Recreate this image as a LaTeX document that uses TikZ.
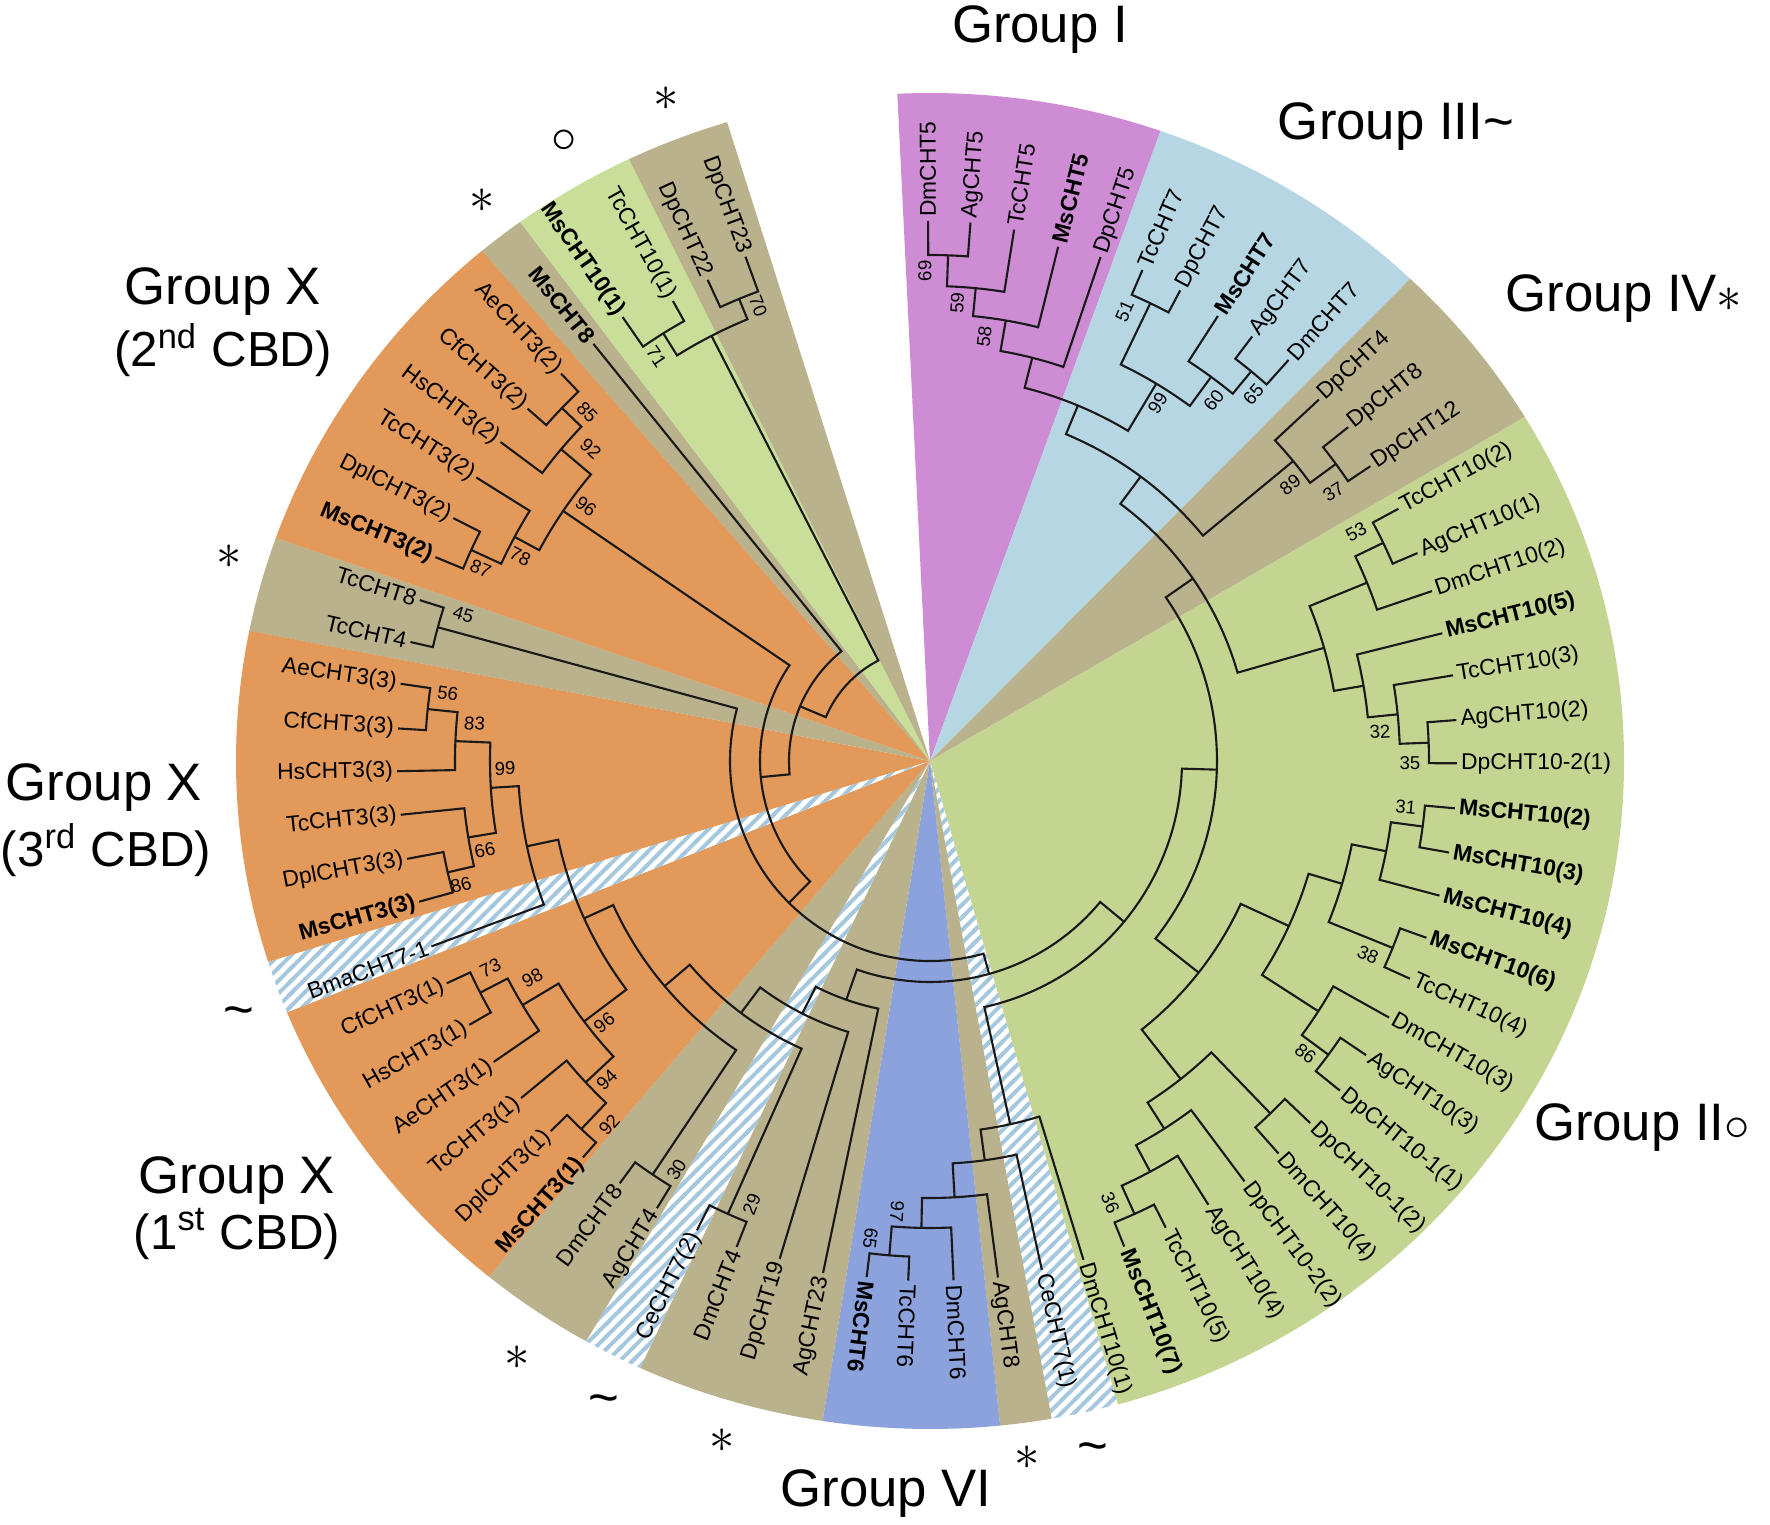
\documentclass[tikz,border=0pt]{standalone}
\usepackage{fontspec}
\setmainfont{Liberation Sans}
\usetikzlibrary{patterns}
\definecolor{grpink}{RGB}{206,140,212}
\definecolor{grsky}{RGB}{182,214,228}
\definecolor{grtan}{RGB}{186,178,140}
\definecolor{grgreen}{RGB}{196,213,145}
\definecolor{grlime}{RGB}{201,222,152}
\definecolor{grblue}{RGB}{140,162,221}
\definecolor{grorange}{RGB}{227,153,90}
\definecolor{hatchblue}{RGB}{165,200,222}
\definecolor{branchc}{RGB}{25,25,25}

\pgfdeclarepatternformonly{cladehatch}{\pgfpoint{-1pt}{-1pt}}{\pgfpoint{4.6pt}{4.6pt}}{\pgfpoint{3.6pt}{3.6pt}}{%
  \pgfsetlinewidth{1.1pt}%
  \pgfpathmoveto{\pgfpoint{-1pt}{-1pt}}%
  \pgfpathlineto{\pgfpoint{4.6pt}{4.6pt}}%
  \pgfusepath{stroke}}

% background sector of a clade, from angle #1 to angle #2
\newcommand{\sector}[3]{%
  \fill[#3] (0,0) -- (#1:694 and 668) arc[start angle=#1, end angle=#2, x radius=6.94cm, y radius=6.68cm] -- cycle;}
% clade #1 at radius #2 joining #3 and #4
\newcommand{\clade}[4]{%
  \pgfmathsetmacro{\clA}{\csname A#3\endcsname}%
  \pgfmathsetmacro{\clB}{\csname A#4\endcsname}%
  \pgfmathsetmacro{\clM}{(\clA+\clB)/2}%
  \expandafter\xdef\csname A#1\endcsname{\clM}%
  \coordinate (#1) at (\clM:#2);
  \draw[branch] (#3) -- (\clA:#2) arc[start angle=\clA, end angle=\clB, radius=#2*0.01cm] -- (#4);}

\begin{document}
\begin{tikzpicture}[x=0.01cm, y=0.01cm,
    branch/.style={draw=branchc, line width=0.6pt, line join=miter},
    lbln/.style={font=\fontsize{6.5}{7}\selectfont, inner sep=1pt},
    lblb/.style={font=\fontsize{6.5}{7}\selectfont\bfseries, inner sep=1pt},
    boot/.style={font=\fontsize{5.3}{6}\selectfont, inner sep=0pt},
    grplbl/.style={font=\fontsize{15}{18}\selectfont, inner sep=0pt},
    cbdlbl/.style={font=\fontsize{14}{17}\selectfont, inner sep=0pt},
    sym/.style={font=\fontsize{15}{18}\selectfont, inner sep=0pt}]
\useasboundingbox (-930,-764) rectangle (840,761);

% clade backgrounds
\sector{92.7}{70.6}{grpink}
\sector{70.6}{46.2}{grsky}
\sector{46.2}{31.0}{grtan}
\sector{31.0}{-74.3}{grgreen}
\sector{-74.3}{-79.9}{white}
\sector{-74.3}{-79.9}{pattern=cladehatch, pattern color=hatchblue}
\sector{-79.9}{-84.2}{grtan}
\sector{-84.2}{-98.9}{grblue}
\sector{-98.9}{-114.7}{grtan}
\sector{-114.7}{-119.7}{white}
\sector{-114.7}{-119.7}{pattern=cladehatch, pattern color=hatchblue}
\sector{-119.7}{-129.5}{grtan}
\sector{-129.5}{-157.9}{grorange}
\sector{-157.9}{-162.5}{white}
\sector{-157.9}{-162.5}{pattern=cladehatch, pattern color=hatchblue}
\sector{-162.5}{-191.25}{grorange}
\sector{-191.25}{-199.5}{grtan}
\sector{-199.5}{-229.8}{grorange}
\sector{-229.8}{-233.8}{grtan}
\sector{-233.8}{-244.3}{grlime}
\sector{-244.3}{-253.0}{grtan}

% leaves
\foreach \id/\ang/\rad/\lname/\wt in {
  dmcht5/90.2/540/DmCHT5/n, agcht5/85.7/540/AgCHT5/n, tccht5/81.0/538/TcCHT5/n,
  mscht5/76.0/530/MsCHT5/b, dpcht5/71.3/532/DpCHT5/n,
  tccht7/66.6/535/TcCHT7/n, dpcht7/62.0/533/DpCHT7/n, mscht7/57.1/530/MsCHT7/b,
  agcht7/52.8/533/AgCHT7/n, dmcht7/48.2/538/DmCHT7/n,
  dpcht4/42.9/531/DpCHT4/n, dpcht8/38.6/535/DpCHT8/n, dpcht12/33.8/530/DpCHT12/n,
  tccht10-2/28.3/532/TcCHT10(2)/n, agcht10-1/23.1/530/AgCHT10(1)/n,
  dmcht10-2/18.7/530/DmCHT10(2)/n, mscht10-5/14.0/528/MsCHT10(5)/b,
  tccht10-3/9.3/530/TcCHT10(3)/n, agcht10-2/4.45/528/AgCHT10(2)/n,
  dpcht10-2-1/-0.25/527/DpCHT10-2(1)/n, mscht10-2/-5.15/527/MsCHT10(2)/b,
  mscht10-3/-10.0/527/MsCHT10(3)/b, mscht10-4/-14.8/527/MsCHT10(4)/b,
  mscht10-6/-19.6/527/MsCHT10(6)/b, tccht10-4/-24.4/527/TcCHT10(4)/n,
  dmcht10-3/-29.2/526/DmCHT10(3)/n, agcht10-3/-34.0/526/AgCHT10(3)/n,
  dpcht10-1-1/-38.8/526/DpCHT10-1(1)/n, dpcht10-1-2/-43.6/525/DpCHT10-1(2)/n,
  dmcht10-4/-48.4/525/DmCHT10(4)/n, dpcht10-2-2/-53.2/525/DpCHT10-2(2)/n,
  agcht10-4/-57.9/524/AgCHT10(4)/n, tccht10-5/-63.2/523/TcCHT10(5)/n,
  mscht10-7/-68.2/523/MsCHT10(7)/b, dmcht10-1/-72.9/522/DmCHT10(1)/n,
  cecht7-1/-77.6/521/CeCHT7(1)/n, agcht8/-82.5/521/AgCHT8/n,
  dmcht6/-87.4/520/DmCHT6/n, tccht6/-92.4/520/TcCHT6/n, mscht6/-97.0/520/MsCHT6/b,
  agcht23/-101.8/523/AgCHT23/n, dpcht19/-106.8/520/DpCHT19/n, dmcht4/-111.7/523/DmCHT4/n,
  cecht7-2/-116.4/524/CeCHT7(2)/n, agcht4/-121.4/524/AgCHT4/n, dmcht8/-126.3/524/DmCHT8/n,
  mscht3-1/-131.2/527/MsCHT3(1)/b, dplcht3-1/-135.7/530/DplCHT3(1)/n,
  tccht3-1/-140.5/530/TcCHT3(1)/n, aecht3-1/-145.4/530/AeCHT3(1)/n,
  hscht3-1/-150.2/531/HsCHT3(1)/n, cfcht3-1/-155.3/532/CfCHT3(1)/n,
  bmacht7-1/-159.6/532/BmaCHT7-1/n,
  mscht3-3/-164.6/530/MsCHT3(3)/b, dplcht3-3/-169.4/532/DplCHT3(3)/n,
  tccht3-3/-174.2/532/TcCHT3(3)/n, hscht3-3/-178.9/533/HsCHT3(3)/n,
  cfcht3-3/-183.5/533/CfCHT3(3)/n, aecht3-3/-188.3/535/AeCHT3(3)/n,
  tccht4/-192.9/533/TcCHT4/n, tccht8/-197.5/535/TcCHT8/n,
  mscht3-2/-202.4/535/MsCHT3(2)/b, dplcht3-2/-207.0/535/DplCHT3(2)/n,
  tccht3-2/-212.0/535/TcCHT3(2)/n, hscht3-2/-216.6/535/HsCHT3(2)/n,
  cfcht3-2/-221.2/535/CfCHT3(2)/n, aecht3-2/-226.4/535/AeCHT3(2)/n,
  mscht8/-231.1/536/MsCHT8/b, mscht10-1/-235.3/540/MsCHT10(1)/b,
  tccht10-1/-240.8/527/TcCHT10(1)/n, dpcht22/-245.2/530/DpCHT22/n,
  dpcht23/-249.9/537/DpCHT23/n}{
  \coordinate (\id) at (\ang:\rad);
  \expandafter\xdef\csname A\id\endcsname{\ang}
  \ifdim\ang pt>-100pt
    \node[lbl\wt, rotate=\ang, anchor=west] (lab-\id) at (\id) {\lname};
  \else
    \node[lbl\wt, rotate=\ang+180, anchor=east] (lab-\id) at (\id) {\lname};
  \fi
}

% Group I, III, IV
\clade{c69}{506}{dmcht5}{agcht5}
\clade{c59}{475}{c69}{tccht5}
\clade{c58}{447}{c59}{mscht5}
\clade{cg1}{416}{c58}{dpcht5}
\clade{c51}{508}{tccht7}{dpcht7}
\clade{c65}{505}{agcht7}{dmcht7}
\clade{c60}{476}{mscht7}{c65}
\clade{cg3}{440}{c51}{c60}
\clade{cg13}{385}{cg1}{cg3}
\clade{c37}{503}{dpcht8}{dpcht12}
\clade{cg4}{471}{dpcht4}{c37}
\clade{cg134}{354}{cg13}{cg4}
% Group II
\clade{c53}{503}{tccht10-2}{agcht10-1}
\clade{cu1}{472}{c53}{dmcht10-2}
\clade{c35}{499}{agcht10-2}{dpcht10-2-1}
\clade{c32}{470}{tccht10-3}{c35}
\clade{cu2}{440}{mscht10-5}{c32}
\clade{cu}{410}{cu1}{cu2}
\clade{cup}{320}{cg134}{cu}
\clade{c31}{497}{mscht10-2}{mscht10-3}
\clade{cm1}{465}{c31}{mscht10-4}
\clade{c38}{499}{mscht10-6}{tccht10-4}
\clade{cm2}{430}{cm1}{c38}
\clade{c86}{495}{agcht10-3}{dpcht10-1-1}
\clade{cm3}{462}{dmcht10-3}{c86}
\clade{cm}{395}{cm2}{cm3}
\clade{c36}{497}{tccht10-5}{mscht10-7}
\clade{cl1}{466}{agcht10-4}{c36}
\clade{cl2}{436}{dpcht10-2-2}{cl1}
\clade{cl3}{490}{dpcht10-1-2}{dmcht10-4}
\clade{cl}{405}{cl3}{cl2}
\clade{cml}{342}{cm}{cl}
\clade{cright}{287}{cup}{cml}
% Group VI
\clade{c65b}{496}{tccht6}{mscht6}
\clade{c97}{467}{dmcht6}{c65b}
\clade{cv1}{437}{agcht8}{c97}
\clade{cv2}{403}{cecht7-1}{cv1}
\clade{cbv}{372}{dmcht10-1}{cv2}
\clade{cp252}{252}{cright}{cbv}
% Group X, 1st and 3rd CBD
\clade{c73}{506}{hscht3-1}{cfcht3-1}
\clade{c98}{475}{aecht3-1}{c73}
\clade{c92}{507}{mscht3-1}{dplcht3-1}
\clade{c94}{471}{c92}{tccht3-1}
\clade{cx1}{433}{c94}{c98}
\clade{c56}{505}{cfcht3-3}{aecht3-3}
\clade{c83}{475}{hscht3-3}{c56}
\clade{c86b}{495}{mscht3-3}{dplcht3-3}
\clade{c66}{468}{c86b}{tccht3-3}
\clade{cx3}{440}{c66}{c83}
\clade{cxb}{412}{bmacht7-1}{cx3}
\clade{cx13}{380}{cx1}{cxb}
\clade{c30}{498}{agcht4}{dmcht8}
\clade{ca}{348}{c30}{cx13}
\clade{c29}{496}{dmcht4}{cecht7-2}
\clade{cb}{315}{c29}{ca}
\clade{cc}{283}{dpcht19}{cb}
\clade{cd}{253}{agcht23}{cc}
\clade{cx221}{221}{cp252}{cd}
\clade{c45}{510}{tccht4}{tccht8}
\clade{cp200}{200}{cx221}{c45}
% Group X, 2nd CBD
\clade{c87}{505}{mscht3-2}{dplcht3-2}
\clade{c78}{472}{c87}{tccht3-2}
\clade{c85}{510}{cfcht3-2}{aecht3-2}
\clade{c92b}{483}{hscht3-2}{c85}
\clade{cx2}{444}{c78}{c92b}
\clade{cq}{170}{cp200}{cx2}
\clade{cqm}{141}{cq}{mscht8}
\clade{c71}{504}{mscht10-1}{tccht10-1}
\clade{c70}{500}{dpcht22}{dpcht23}
\clade{ctl}{478}{c71}{c70}
\clade{croot}{113}{cqm}{ctl}

% bootstrap values
\foreach \bv/\ang/\rad [count=\bi] in {
  69/90.6/490, 59/86.6/459, 58/82.7/428, 51/66.6/490, 99/57.5/424, 60/51.8/459,
  65/48.6/489, 89/37.5/454, 37/33.7/485, 53/28.3/484, 32/3.7/451, 35/-0.3/480,
  31/-5.5/478, 38/-23.9/479, 86/-37.9/476, 36/-67.8/477, 65/-97.1/481, 97/-94.2/452,
  30/-121.8/481, 29/-111.9/478, 73/-154.8/486, 98/-151.4/453, 96/-141.2/418,
  94/-135.4/454, 92/-131.4/485, 56/-188/487, 83/-184.7/457, 99/-179/425,
  66/-168.7/454, 86/-165.2/485, 45/-197.4/489, 85/-225.5/489, 92/-222.6/461,
  96/-216.5/428, 78/-206.5/458, 87/-203.2/489, 71/-235.9/488, 70/-249.3/486}{
  \ifdim\ang pt>-100pt
    \node[boot, rotate=\ang] (bs\bi) at (\ang:\rad) {\bv};
  \else
    \node[boot, rotate=\ang+180] (bs\bi) at (\ang:\rad) {\bv};
  \fi
}

% group names
\node[grplbl] (gI) at (110,731) {Group I};
\node[grplbl] (gIII) at (466,634) {Group III\textasciitilde};
\node[grplbl] (gIV) at (694,462) {Group IV$\ast$};
\node[grplbl] (gII) at (712,-367) {Group II$\circ$};
\node[grplbl] (gVI) at (-44,-733) {Group VI};
\node[grplbl] (gX2) at (-707,469) {Group X};
\node[cbdlbl] (gX2b) at (-707,411) {(2\textsuperscript{nd} CBD)};
\node[grplbl] (gX3) at (-826,-27) {Group X};
\node[cbdlbl] (gX3b) at (-824,-89) {(3\textsuperscript{rd} CBD)};
\node[grplbl] (gX1) at (-693,-420) {Group X};
\node[cbdlbl] (gX1b) at (-693,-473) {(1\textsuperscript{st} CBD)};

% markers
\node[sym] (s1) at (-264,662) {$\ast$};
\node[sym] (s2) at (-366,620) {$\circ$};
\node[sym] (s3) at (-448,560) {$\ast$};
\node[sym] (s4) at (-701,204) {$\ast$};
\node[sym] (s5) at (-691,-256) {\textasciitilde};
\node[sym] (s6) at (-413,-597) {$\ast$};
\node[sym] (s7) at (-326,-644) {\textasciitilde};
\node[sym] (s8) at (-208,-680) {$\ast$};
\node[sym] (s9) at (97,-697) {$\ast$};
\node[sym] (s10) at (163,-692) {\textasciitilde};
\end{tikzpicture}
\end{document}
